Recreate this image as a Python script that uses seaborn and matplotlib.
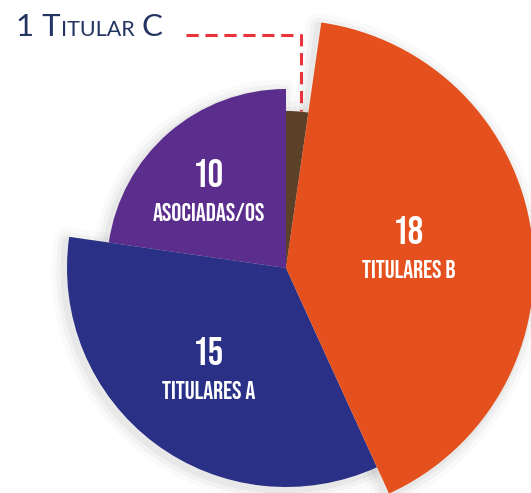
import numpy as np
import seaborn as sns
import matplotlib
import matplotlib.pyplot as plt
from matplotlib.patches import Wedge
from matplotlib.offsetbox import TextArea, HPacker, AnnotationBbox

# Members by category
categories = ["Titular C", "Asociadas/os", "Titulares A", "Titulares B"]
values = [1, 10, 15, 18]
labels = ["", "ASOCIADAS/OS", "TITULARES A", "TITULARES B"]

# Styling
colors = ["#5a4128", "#5b2d8d", "#2a3086", "#e4511e"]
radii = [157, 179, 219, 248]
label_frac = [0, 0.60, 0.59, 0.50]
label_turn = [0, 5, 0, 0]
navy = "#243462"
cond = ["Bebas Neue", "DejaVu Sans"]
title_font = ["Lato", "DejaVu Sans"]

sns.set_style("white")
plt.rcParams["font.family"] = title_font

fig = plt.figure(figsize=(5.31, 4.93), dpi=100)
ax = fig.add_axes([0, 0, 1, 1])

start = 90 - 360 * values[0] / sum(values)
wedges, _ = ax.pie(values, colors=colors, startangle=start, counterclock=True,
                   wedgeprops=dict(linewidth=0))
for w, r in zip(wedges, radii):
    w.set_radius(r)
    w.set_zorder(3)
    # soft shadow
    for lw, a in [(18, 0.02), (11, 0.03), (5, 0.04)]:
        sh = Wedge((w.center[0] - 3, w.center[1] - 3), r, w.theta1, w.theta2,
                   facecolor="none", edgecolor="black", linewidth=lw, alpha=a,
                   zorder=1, joinstyle="round")
        ax.add_patch(sh)

# value + name labels inside slices
for w, v, lab, f, t in zip(wedges, values, labels, label_frac, label_turn):
    if not lab:
        continue
    mid = np.deg2rad((w.theta1 + w.theta2) / 2 + t)
    x = w.r * f * np.cos(mid)
    y = w.r * f * np.sin(mid)
    ax.text(x, y + 20, str(v), color="white", fontsize=28,
            family=cond, ha="center", va="center", zorder=5)
    ax.text(x, y - 19, lab, color="white", fontsize=18,
            family=cond, ha="center", va="center", zorder=5)

# leader line for the tiny slice
wc = wedges[0]
mid = np.deg2rad((wc.theta1 + wc.theta2) / 2)
lx = wc.r * np.cos(mid) + 4
ly = wc.r * np.sin(mid)
ax.plot([-100, lx, lx], [233, 233, ly], color="#e8333a", lw=2.2,
        dashes=(4, 2.2), zorder=4, solid_capstyle="butt")

# small-caps title "1 TITULAR C"
parts = [("1 T", 22.5), ("ITULAR", 15.5), (" C", 22.5)]
boxes = [TextArea(t, textprops=dict(color=navy, fontsize=s, family=title_font))
         for t, s in parts]
pack = HPacker(children=boxes, align="baseline", pad=0, sep=0)
ab = AnnotationBbox(pack, (-270, 241), xycoords="data", box_alignment=(0, 0.5),
                    frameon=False, pad=0, zorder=6)
ax.add_artist(ab)

ax.set_xlim(-286, 245)
ax.set_ylim(-225, 268)
ax.set_aspect("equal")
ax.axis("off")

fig.savefig("out.png", dpi=100)
